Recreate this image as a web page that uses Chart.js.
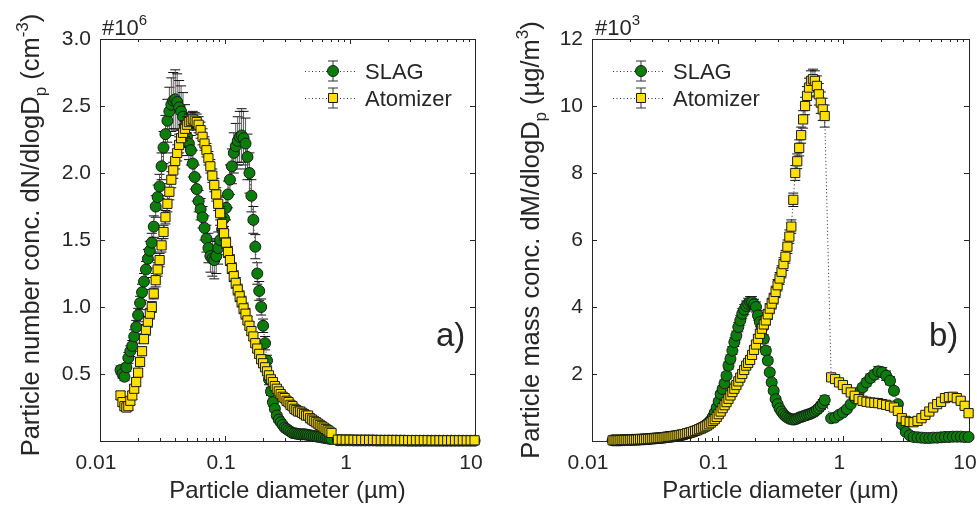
<!DOCTYPE html>
<html lang="en">
<head>
  <meta charset="UTF-8" />
  <title>SLAG vs Atomizer size distributions</title>
  <script src="https://cdn.jsdelivr.net/npm/chart.js"></script>
  <style>
    body { margin: 0; background: #fff; }
    .panel { position: absolute; top: 0; }
  </style>
</head>
<body>
  <div class="panel" style="left:0"><canvas id="numberChart" width="488" height="508"></canvas></div>
  <div class="panel" style="left:488px"><canvas id="massChart" width="489" height="508"></canvas></div>

  <script>
    // size bins (µm): SMPS part and APS part
    const smpsDiam = [0.0146,0.01513,0.01569,0.01626,0.01686,0.01748,0.01812,0.01878,0.01947,0.02018,
      0.02092,0.02169,0.02248,0.02331,0.02416,0.02505,0.02596,0.02691,0.0279,0.02892,
      0.02998,0.03108,0.03222,0.0334,0.03462,0.03589,0.0372,0.03857,0.03998,0.04144,
      0.04296,0.04454,0.04617,0.04786,0.04961,0.05143,0.05331,0.05527,0.05729,0.05939,
      0.06157,0.06382,0.06616,0.06858,0.0711,0.0737,0.0764,0.0792,0.0821,0.08511,
      0.08823,0.09146,0.09481,0.09828,0.1019,0.1056,0.1095,0.1135,0.1176,0.1219,
      0.1264,0.131,0.1358,0.1408,0.146,0.1513,0.1569,0.1626,0.1686,0.1748,
      0.1812,0.1878,0.1947,0.2018,0.2092,0.2169,0.2248,0.2331,0.2416,0.2505,
      0.2596,0.2691,0.279,0.2892,0.2998,0.3108,0.3222,0.334,0.3462,0.3589,
      0.372,0.3857,0.3998,0.4144,0.4296,0.4454,0.4617,0.4786,0.4961,0.5143,
      0.5331,0.5527,0.5729,0.5939,0.6157,0.6382,0.6616,0.6858,0.711];
    const apsDiam = [0.8,0.86,0.924,0.993,1.067,1.146,1.232,1.324,1.422,1.528,
      1.642,1.765,1.896,2.038,2.19,2.353,2.529,2.717,2.92,3.138,
      3.372,3.623,3.894,4.184,4.496,4.832,5.192,5.58,5.996,6.443,
      6.924,7.44,7.995,8.592,9.233,9.922];

    // x tick positions (log axis, labels only on decades)
    const xTickValues = [0.01,0.02,0.03,0.04,0.05,0.06,0.07,0.08,0.09,
      0.1,0.2,0.3,0.4,0.5,0.6,0.7,0.8,0.9,
      1,2,3,4,5,6,7,8,9,10];
    const xTickLabels = { 0.01: '0.01', 0.1: '0.1', 1: '1', 10: '10' };

    // a) number concentration, x10^6 cm^-3
    const numSlagSmps = [0.53,0.50,0.48,0.55,0.62,0.67,0.71,0.78,0.85,0.94,
      1.03,1.11,1.19,1.28,1.36,1.42,1.48,1.60,1.75,1.82,
      1.90,2.05,2.19,2.29,2.39,2.46,2.51,2.54,2.55,2.53,
      2.49,2.46,2.42,2.35,2.27,2.22,2.17,2.07,1.97,1.88,
      1.79,1.73,1.67,1.59,1.51,1.44,1.38,1.36,1.35,1.38,
      1.44,1.50,1.58,1.66,1.74,1.84,1.95,2.05,2.15,2.20,
      2.24,2.27,2.28,2.26,2.22,2.12,2.00,1.83,1.65,1.45,
      1.25,1.12,1.00,0.86,0.73,0.60,0.46,0.37,0.29,0.24,
      0.19,0.16,0.14,0.12,0.10,0.09,0.08,0.07,0.06,0.058,
      0.055,0.052,0.05,0.05,0.05,0.048,0.045,0.042,0.04,0.037,
      0.035,0.032,0.03,0.027,0.025,0.022,0.02,0.017,0.015];
    const numSlagSmpsErr = [0.03,0.03,0.03,0.03,0.04,0.04,0.04,0.05,0.05,0.05,
      0.05,0.06,0.06,0.06,0.07,0.07,0.07,0.08,0.08,0.09,
      0.09,0.10,0.12,0.14,0.16,0.18,0.20,0.21,0.22,0.21,
      0.20,0.19,0.18,0.16,0.14,0.12,0.11,0.10,0.09,0.09,
      0.08,0.08,0.08,0.09,0.10,0.11,0.12,0.13,0.14,0.13,
      0.12,0.11,0.10,0.09,0.09,0.10,0.11,0.13,0.15,0.17,
      0.18,0.19,0.20,0.20,0.19,0.17,0.15,0.12,0.10,0.09,
      0.08,0.07,0.06,0.05,0.05,0.04,0.04,0.03,0.03,0.02,
      0.02,0.02,0.02,0.01,0.01,0.01,0.01,0.01,0.01,0.01,
      0.01,0.01,0.01,0.01,0.01,0.01,0.01,0.01,0.01,0.01,
      0.01,0.01,0.01,0.01,0.01,0.01,0.01,0.01,0.01];
    const numSlagAps = [0.006,0.005,0.005,0.005,0.004,0.004,0.004,0.004,0.004,0.004,
      0.003,0.003,0.003,0.003,0.003,0.003,0.003,0.003,0.002,0.002,
      0.002,0.002,0.002,0.002,0.002,0.002,0.002,0.002,0.002,0.002,
      0.002,0.002,0.002,0.002,0.002,0.002];
    const numSlagApsErr = [0.003,0.003,0.003,0.003,0.003,0.003,0.003,0.003,0.003,0.003,
      0.002,0.002,0.002,0.002,0.002,0.002,0.002,0.002,0.002,0.002,
      0.002,0.002,0.002,0.002,0.002,0.002,0.002,0.002,0.002,0.002,
      0.002,0.002,0.002,0.002,0.002,0.002];
    const numAtomSmps = [0.34,0.29,0.26,0.25,0.26,0.30,0.34,0.39,0.44,0.51,
      0.59,0.67,0.76,0.83,0.89,0.95,1.00,1.10,1.20,1.28,
      1.35,1.46,1.56,1.67,1.77,1.86,1.95,2.02,2.09,2.15,
      2.21,2.26,2.30,2.33,2.36,2.38,2.39,2.40,2.39,2.38,
      2.36,2.32,2.27,2.22,2.17,2.11,2.05,1.98,1.91,1.84,
      1.77,1.70,1.62,1.55,1.48,1.41,1.35,1.29,1.23,1.18,
      1.13,1.08,1.04,0.99,0.95,0.90,0.86,0.82,0.78,0.73,
      0.69,0.65,0.61,0.58,0.55,0.52,0.49,0.46,0.44,0.41,
      0.39,0.37,0.35,0.33,0.32,0.30,0.29,0.27,0.26,0.24,
      0.23,0.22,0.22,0.21,0.20,0.19,0.19,0.17,0.16,0.15,
      0.14,0.13,0.12,0.11,0.10,0.09,0.08,0.07,0.06];
    const numAtomSmpsErr = [0.03,0.03,0.03,0.03,0.03,0.03,0.03,0.03,0.03,0.03,
      0.03,0.03,0.03,0.04,0.04,0.04,0.04,0.04,0.05,0.05,
      0.05,0.05,0.05,0.05,0.06,0.06,0.06,0.06,0.06,0.06,
      0.06,0.06,0.06,0.06,0.06,0.06,0.06,0.06,0.06,0.06,
      0.06,0.06,0.06,0.05,0.05,0.05,0.05,0.05,0.05,0.05,
      0.05,0.05,0.05,0.05,0.04,0.04,0.04,0.04,0.04,0.04,
      0.04,0.04,0.04,0.04,0.04,0.03,0.03,0.03,0.03,0.03,
      0.03,0.03,0.03,0.03,0.03,0.03,0.02,0.02,0.02,0.02,
      0.02,0.02,0.02,0.02,0.02,0.02,0.02,0.02,0.02,0.02,
      0.02,0.02,0.02,0.02,0.02,0.02,0.02,0.02,0.02,0.02,
      0.02,0.02,0.02,0.02,0.02,0.02,0.02,0.02,0.02];
    const numAtomAps = [0.010,0.010,0.009,0.009,0.009,0.008,0.008,0.008,0.008,0.008,
      0.007,0.007,0.007,0.007,0.007,0.007,0.006,0.006,0.006,0.006,
      0.006,0.006,0.006,0.006,0.005,0.005,0.005,0.005,0.005,0.005,
      0.005,0.005,0.005,0.005,0.005,0.005];
    const numAtomApsErr = [0.003,0.003,0.003,0.003,0.003,0.003,0.003,0.003,0.003,0.003,
      0.003,0.003,0.003,0.003,0.003,0.003,0.003,0.003,0.003,0.003,
      0.003,0.003,0.003,0.003,0.003,0.003,0.003,0.003,0.003,0.003,
      0.003,0.003,0.003,0.003,0.003,0.003];

    // b) mass concentration, x10^3 µg/m^3
    const massSlagSmps = [0.02,0.02,0.02,0.02,0.02,0.025,0.025,0.03,0.03,0.03,
      0.035,0.035,0.04,0.04,0.045,0.05,0.05,0.055,0.06,0.065,
      0.07,0.075,0.08,0.085,0.09,0.095,0.10,0.11,0.12,0.125,
      0.13,0.14,0.15,0.16,0.17,0.18,0.19,0.21,0.23,0.24,
      0.26,0.28,0.30,0.33,0.36,0.39,0.42,0.46,0.50,0.56,
      0.62,0.72,0.85,1.00,1.18,1.40,1.55,1.72,1.95,2.25,
      2.45,2.70,2.95,3.15,3.40,3.60,3.80,3.92,4.03,4.10,
      4.15,4.15,4.08,4.00,3.75,3.55,3.35,3.05,2.70,2.40,
      2.05,1.75,1.50,1.25,1.10,0.97,0.88,0.80,0.74,0.70,
      0.67,0.65,0.64,0.65,0.67,0.70,0.72,0.74,0.76,0.78,
      0.80,0.82,0.85,0.88,0.93,0.98,1.05,1.12,1.22];
    const massSlagSmpsErr = [0.01,0.01,0.01,0.01,0.01,0.01,0.01,0.01,0.01,0.01,
      0.01,0.01,0.01,0.01,0.01,0.01,0.01,0.01,0.01,0.01,
      0.01,0.01,0.01,0.01,0.01,0.01,0.01,0.01,0.01,0.01,
      0.01,0.01,0.01,0.01,0.02,0.02,0.02,0.02,0.02,0.02,
      0.02,0.02,0.03,0.03,0.03,0.03,0.03,0.04,0.04,0.04,
      0.05,0.05,0.06,0.07,0.08,0.08,0.09,0.10,0.10,0.11,
      0.12,0.12,0.13,0.13,0.14,0.14,0.15,0.15,0.15,0.16,
      0.16,0.16,0.15,0.15,0.14,0.14,0.13,0.12,0.11,0.10,
      0.09,0.08,0.07,0.06,0.06,0.05,0.05,0.05,0.05,0.05,
      0.05,0.05,0.05,0.05,0.05,0.05,0.06,0.06,0.06,0.07,
      0.07,0.08,0.08,0.09,0.10,0.10,0.11,0.12,0.13];
    const massSlagAps = [0.68,0.70,0.78,0.85,0.95,1.10,1.28,1.45,1.60,1.75,
      1.88,1.98,2.08,2.05,1.95,1.80,1.50,1.10,0.50,0.27,
      0.17,0.12,0.11,0.10,0.09,0.09,0.10,0.10,0.11,0.12,
      0.12,0.13,0.13,0.13,0.12,0.12];
    const massSlagApsErr = [0.05,0.05,0.05,0.06,0.06,0.07,0.08,0.09,0.10,0.11,
      0.12,0.13,0.14,0.14,0.14,0.12,0.10,0.08,0.05,0.04,
      0.03,0.03,0.03,0.03,0.03,0.03,0.03,0.03,0.03,0.03,
      0.03,0.03,0.03,0.03,0.03,0.03];
    const massAtomSmps = [0.02,0.02,0.02,0.02,0.03,0.03,0.03,0.03,0.03,0.035,
      0.04,0.04,0.04,0.045,0.05,0.05,0.05,0.055,0.06,0.065,
      0.07,0.075,0.08,0.085,0.09,0.095,0.10,0.11,0.12,0.125,
      0.13,0.14,0.15,0.16,0.17,0.18,0.20,0.21,0.23,0.24,
      0.26,0.28,0.30,0.32,0.35,0.37,0.40,0.43,0.46,0.50,
      0.55,0.60,0.65,0.72,0.80,0.88,0.98,1.07,1.16,1.26,
      1.36,1.46,1.56,1.67,1.78,1.89,2.00,2.12,2.25,2.33,
      2.42,2.57,2.72,2.88,3.05,3.20,3.35,3.48,3.60,3.78,
      3.95,4.10,4.25,4.45,4.65,4.85,5.05,5.28,5.50,5.80,
      6.10,6.40,7.20,8.00,8.35,8.75,9.13,9.60,10.00,10.30,
      10.55,10.75,10.80,10.75,10.60,10.35,10.10,9.90,9.70];
    const massAtomSmpsErr = [0.01,0.01,0.01,0.01,0.01,0.01,0.01,0.01,0.01,0.01,
      0.01,0.01,0.01,0.01,0.01,0.01,0.01,0.01,0.01,0.01,
      0.01,0.01,0.01,0.01,0.01,0.01,0.01,0.01,0.01,0.01,
      0.01,0.01,0.02,0.02,0.02,0.02,0.02,0.02,0.02,0.02,
      0.03,0.03,0.03,0.03,0.03,0.03,0.04,0.04,0.04,0.04,
      0.05,0.05,0.05,0.05,0.05,0.06,0.06,0.06,0.06,0.07,
      0.07,0.07,0.08,0.08,0.08,0.09,0.09,0.09,0.10,0.10,
      0.10,0.11,0.11,0.12,0.12,0.13,0.13,0.14,0.14,0.15,
      0.15,0.16,0.16,0.17,0.17,0.18,0.18,0.19,0.19,0.20,
      0.20,0.20,0.20,0.22,0.22,0.24,0.24,0.26,0.26,0.28,
      0.28,0.30,0.30,0.30,0.30,0.32,0.32,0.33,0.33];
    const massAtomAps = [1.90,1.85,1.75,1.67,1.55,1.45,1.35,1.25,1.20,1.17,
      1.15,1.14,1.13,1.10,1.08,1.05,1.00,0.90,0.68,0.60,
      0.57,0.56,0.60,0.68,0.78,0.88,1.00,1.10,1.17,1.28,
      1.31,1.32,1.28,1.20,1.05,0.83];
    const massAtomApsErr = [0.08,0.08,0.08,0.08,0.08,0.08,0.07,0.07,0.07,0.07,
      0.07,0.07,0.07,0.07,0.07,0.07,0.07,0.06,0.06,0.06,
      0.06,0.06,0.06,0.06,0.07,0.07,0.08,0.08,0.09,0.10,
      0.10,0.10,0.10,0.09,0.08,0.08];

    const FONT = '"Liberation Sans", Arial, sans-serif';
    const INK = '#262626';
    const GREEN = '#0b7d0b';
    const YELLOW = '#ffe000';
    Chart.defaults.font.family = FONT;
    Chart.defaults.color = INK;

    const allDiam = smpsDiam.concat(apsDiam);
    const toPoints = ys => allDiam.map((x, i) => ({ x: x, y: ys[i] }));

    function isDecade(v) {
      const l = Math.log10(v);
      return Math.abs(l - Math.round(l)) < 1e-6;
    }

    // draws a string made of pieces (normal / sub / sup) starting at x
    function drawPieces(ctx, parts, x, y) {
      parts.forEach(p => {
        ctx.font = p.size + 'px ' + FONT;
        ctx.fillText(p.t, x, y + (p.dy || 0));
        x += ctx.measureText(p.t).width;
      });
    }
    function piecesWidth(ctx, parts) {
      let w = 0;
      parts.forEach(p => { ctx.font = p.size + 'px ' + FONT; w += ctx.measureText(p.t).width; });
      return w;
    }

    function drawMarker(ctx, style, x, y, r) {
      ctx.lineWidth = 1;
      ctx.strokeStyle = '#1a1a1a';
      ctx.beginPath();
      if (style === 'circle') {
        ctx.fillStyle = GREEN;
        ctx.arc(x, y, r, 0, Math.PI * 2);
      } else {
        ctx.fillStyle = YELLOW;
        ctx.rect(x - r, y - r, 2 * r, 2 * r);
      }
      ctx.fill();
      ctx.stroke();
    }

    const decor = {
      id: 'decor',
      beforeDatasetsDraw(chart) {
        const { ctx, chartArea: a } = chart;
        const xs = chart.scales.x, ys = chart.scales.y;
        ctx.save();
        ctx.strokeStyle = INK;
        ctx.lineWidth = 1;
        ctx.strokeRect(a.left + 0.5, a.top + 0.5, a.right - a.left, a.bottom - a.top);
        ctx.beginPath();
        xTickValues.forEach(v => {
          const px = Math.round(xs.getPixelForValue(v)) + 0.5;
          if (px <= a.left + 1 || px >= a.right - 1) return;
          const len = isDecade(v) ? 5 : 3;
          ctx.moveTo(px, a.bottom); ctx.lineTo(px, a.bottom - len);
          ctx.moveTo(px, a.top); ctx.lineTo(px, a.top + len);
        });
        ys.ticks.forEach(t => {
          const py = Math.round(ys.getPixelForValue(t.value)) + 0.5;
          if (py <= a.top + 1 || py >= a.bottom - 1) return;
          ctx.moveTo(a.left, py); ctx.lineTo(a.left + 5, py);
          ctx.moveTo(a.right, py); ctx.lineTo(a.right - 5, py);
        });
        ctx.stroke();
        ctx.restore();
      },
      // error bars under each series
      beforeDatasetDraw(chart, args) {
        const ds = chart.data.datasets[args.index];
        const ys = chart.scales.y;
        const ctx = chart.ctx;
        ctx.save();
        ctx.lineWidth = 1;
        args.meta.data.forEach((pt, i) => {
          const v = ds.data[i].y, e = ds.err[i];
          if (v == null) return;
          const top = ys.getPixelForValue(v + e), bot = ys.getPixelForValue(v - e);
          ctx.strokeStyle = '#5a5a5a';
          ctx.beginPath(); ctx.moveTo(pt.x, top); ctx.lineTo(pt.x, bot); ctx.stroke();
          ctx.strokeStyle = '#111';
          ctx.beginPath();
          ctx.moveTo(pt.x - 5, top); ctx.lineTo(pt.x + 5, top);
          ctx.moveTo(pt.x - 5, bot); ctx.lineTo(pt.x + 5, bot);
          ctx.stroke();
        });
        ctx.restore();
      },
      afterDraw(chart, args, o) {
        const ctx = chart.ctx;
        ctx.save();
        ctx.fillStyle = INK;
        ctx.textBaseline = 'alphabetic';
        ctx.textAlign = 'left';

        // rotated y title with subscript / superscript
        ctx.save();
        ctx.translate(o.titleX, o.titleY);
        ctx.rotate(-Math.PI / 2);
        const w = piecesWidth(ctx, o.yTitle);
        drawPieces(ctx, o.yTitle, -w / 2, 9);
        ctx.restore();

        // exponent above the y axis
        drawPieces(ctx, [{ t: '#10', size: 22 }, { t: o.expo, size: 15, dy: -10 }], o.expoX, 35);

        // panel letter
        ctx.font = '33px ' + FONT;
        ctx.fillText(o.letter, o.letterX, 346);

        // legend
        const items = [
          { name: 'SLAG', style: 'circle', y: 71, r: 5.5 },
          { name: 'Atomizer', style: 'rect', y: 98, r: 4.5 }
        ];
        items.forEach(it => {
          const x0 = o.legendX, xm = x0 + 28, x1 = x0 + 52;
          ctx.strokeStyle = '#333';
          ctx.lineWidth = 1;
          ctx.setLineDash([1, 2.5]);
          ctx.beginPath(); ctx.moveTo(x0, it.y + 0.5); ctx.lineTo(x1, it.y + 0.5); ctx.stroke();
          ctx.setLineDash([]);
          ctx.strokeStyle = '#333';
          ctx.beginPath();
          ctx.moveTo(xm, it.y - 10); ctx.lineTo(xm, it.y + 10);
          ctx.moveTo(xm - 5, it.y - 10); ctx.lineTo(xm + 5, it.y - 10);
          ctx.moveTo(xm - 5, it.y + 10); ctx.lineTo(xm + 5, it.y + 10);
          ctx.stroke();
          drawMarker(ctx, it.style, xm, it.y, it.r);
          ctx.fillStyle = INK;
          ctx.font = '22px ' + FONT;
          ctx.fillText(it.name, x0 + 60, it.y + 8);
        });
        ctx.restore();
      }
    };

    function makePanel(id, p) {
      const slag = {
        label: 'SLAG',
        data: toPoints(p.slag),
        err: p.slagErr,
        order: 1,
        pointStyle: 'circle',
        pointRadius: 5.5,
        pointBackgroundColor: GREEN
      };
      const atom = {
        label: 'Atomizer',
        data: toPoints(p.atom),
        err: p.atomErr,
        order: 0,
        pointStyle: 'rect',
        pointRadius: 6.5,
        pointBackgroundColor: YELLOW
      };
      [slag, atom].forEach(d => Object.assign(d, {
        showLine: true,
        borderColor: '#222',
        borderWidth: 1,
        borderDash: [1, 2.5],
        pointBorderColor: '#1a1a1a',
        pointBorderWidth: 1,
        clip: false
      }));

      return new Chart(document.getElementById(id), {
        type: 'line',
        data: { datasets: [slag, atom] },
        plugins: [decor],
        options: {
          responsive: false,
          animation: false,
          events: [],
          layout: { padding: p.pad },
          plugins: {
            legend: { display: false },
            tooltip: { enabled: false },
            decor: p.decor
          },
          scales: {
            x: {
              type: 'logarithmic',
              min: 0.01,
              max: 10,
              grid: { display: false, drawTicks: false },
              border: { display: false },
              afterBuildTicks: s => { s.ticks = [0.01, 0.1, 1, 10].map(v => ({ value: v })); },
              ticks: {
                autoSkip: false,
                maxRotation: 0,
                minRotation: 0,
                padding: 10,
                labelOffset: -4,
                font: { size: 21 },
                callback: v => xTickLabels[v] || ''
              },
              title: {
                display: true,
                text: 'Particle diameter (µm)',
                font: { size: 24 },
                padding: { top: 0, bottom: 2 }
              },
              afterFit: s => { s.height = 67; s.paddingLeft = 0; s.paddingRight = 0; }
            },
            y: {
              min: 0,
              max: p.yMax,
              grid: { display: false, drawTicks: false },
              border: { display: false },
              ticks: {
                stepSize: p.yStep,
                padding: 9,
                font: { size: 21 },
                callback: p.yFmt
              },
              afterFit: s => { s.width = 60; s.paddingTop = 0; s.paddingBottom = 0; }
            }
          }
        }
      });
    }

    makePanel('numberChart', {
      slag: numSlagSmps.concat(numSlagAps),
      slagErr: numSlagSmpsErr.concat(numSlagApsErr),
      atom: numAtomSmps.concat(numAtomAps),
      atomErr: numAtomSmpsErr.concat(numAtomApsErr),
      pad: { left: 40, right: 13, top: 39, bottom: 0 },
      yMax: 3,
      yStep: 0.5,
      yFmt: v => v === 0 ? '' : v.toFixed(1),
      decor: {
        titleX: 30, titleY: 235,
        yTitle: [
          { t: 'Particle number conc. dN/dlogD', size: 25.5 },
          { t: 'p', size: 17, dy: 7 },
          { t: ' (cm', size: 25.5 },
          { t: '-3', size: 17, dy: -11 },
          { t: ')', size: 25.5 }
        ],
        expoX: 102, expo: '6',
        letter: 'a)', letterX: 436,
        legendX: 305
      }
    });

    makePanel('massChart', {
      slag: massSlagSmps.concat(massSlagAps),
      slagErr: massSlagSmpsErr.concat(massSlagApsErr),
      atom: massAtomSmps.concat(massAtomAps),
      atomErr: massAtomSmpsErr.concat(massAtomApsErr),
      pad: { left: 44, right: 8, top: 39, bottom: 0 },
      yMax: 12,
      yStep: 2,
      yFmt: v => v === 0 ? '' : String(v),
      decor: {
        titleX: 42, titleY: 240,
        yTitle: [
          { t: 'Particle mass conc. dM/dlogD', size: 25.5 },
          { t: 'p', size: 17, dy: 7 },
          { t: ' (µg/m', size: 25.5 },
          { t: '3', size: 17, dy: -11 },
          { t: ')', size: 25.5 }
        ],
        expoX: 107, expo: '3',
        letter: 'b)', letterX: 441,
        legendX: 125
      }
    });
  </script>
</body>
</html>
